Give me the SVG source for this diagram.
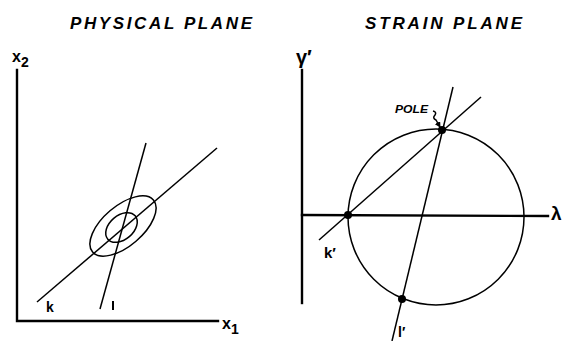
<svg xmlns="http://www.w3.org/2000/svg" width="565" height="341" viewBox="0 0 565 341">
<style>
.ax{stroke:#000;stroke-width:2.4;fill:none;stroke-linecap:square}
.ln{stroke:#000;stroke-width:1.5;fill:none}
.t{font-family:"Liberation Sans","DejaVu Sans",sans-serif;font-weight:bold;fill:#000}
.ti{font-family:"Liberation Sans","DejaVu Sans",sans-serif;font-weight:bold;font-style:italic;font-size:17px;fill:#000}
.dot{fill:#000}
</style>
<defs>
<marker id="ah" markerWidth="6" markerHeight="6" refX="5" refY="3" orient="auto" markerUnits="userSpaceOnUse">
<path d="M0,0 L6,3 L0,6 z" fill="#000"/>
</marker>
</defs>
<rect width="565" height="341" fill="#fff"/>
<text class="ti" x="70" y="29" textLength="182" lengthAdjust="spacing">PHYSICAL PLANE</text>
<text class="ti" x="365" y="29" textLength="157" lengthAdjust="spacing">STRAIN PLANE</text>

<g id="physical-axes">
<polyline class="ax" points="17,70 17,321 218,321"/>
<text class="t" x="12" y="62" font-size="16">x<tspan font-size="14" dy="5">2</tspan></text>
<text class="t" x="222" y="329" font-size="16">x<tspan font-size="14" dy="5">1</tspan></text>
</g>
<g id="ellipses">
<ellipse class="ln" cx="123" cy="226" rx="40" ry="20" transform="rotate(-40.5 123 226)"/>
<ellipse class="ln" cx="121.5" cy="227.5" rx="18" ry="12" transform="rotate(-40.5 121.5 227.5)"/>
</g>
<g id="connectors">
<line class="ln" x1="37" y1="302" x2="217" y2="148"/>
<line class="ln" x1="100" y1="309" x2="146" y2="143"/>
<line class="ln" x1="319" y1="240" x2="481" y2="97"/>
<line class="ln" x1="392" y1="341" x2="453" y2="87"/>
<path class="ln" stroke-width="1" d="M433,111 q4,1 2,4 q-3,3 1,5 L440,127" marker-end="url(#ah)"/>
</g>
<g id="physical-labels">
<text class="t" x="46" y="312" font-size="14">k</text>
<line x1="113" y1="301" x2="113" y2="310" stroke="#000" stroke-width="2"/>
</g>

<g id="strain-axes">
<line class="ax" x1="302" y1="70" x2="302" y2="303"/>
<line class="ax" x1="302" y1="215" x2="548" y2="216"/>
<text class="t" x="296" y="64" font-size="20">γ′</text>
<text class="t" x="551" y="220" font-size="19">λ</text>
</g>
<g id="mohr-circle">
<circle class="ln" cx="436" cy="217" r="88"/>
</g>
<g id="points">
<circle class="dot" cx="348" cy="215" r="4"/>
<circle class="dot" cx="442" cy="130" r="4"/>
<circle class="dot" cx="402" cy="299" r="4"/>
</g>
<g id="strain-labels">
<text class="t" x="324" y="258" font-size="15">k′</text>
<text class="t" x="398" y="337" font-size="14">l′</text>
<text class="ti" x="395" y="113" style="font-size:10px" textLength="33" lengthAdjust="spacingAndGlyphs">POLE</text>
</g>
</svg>
